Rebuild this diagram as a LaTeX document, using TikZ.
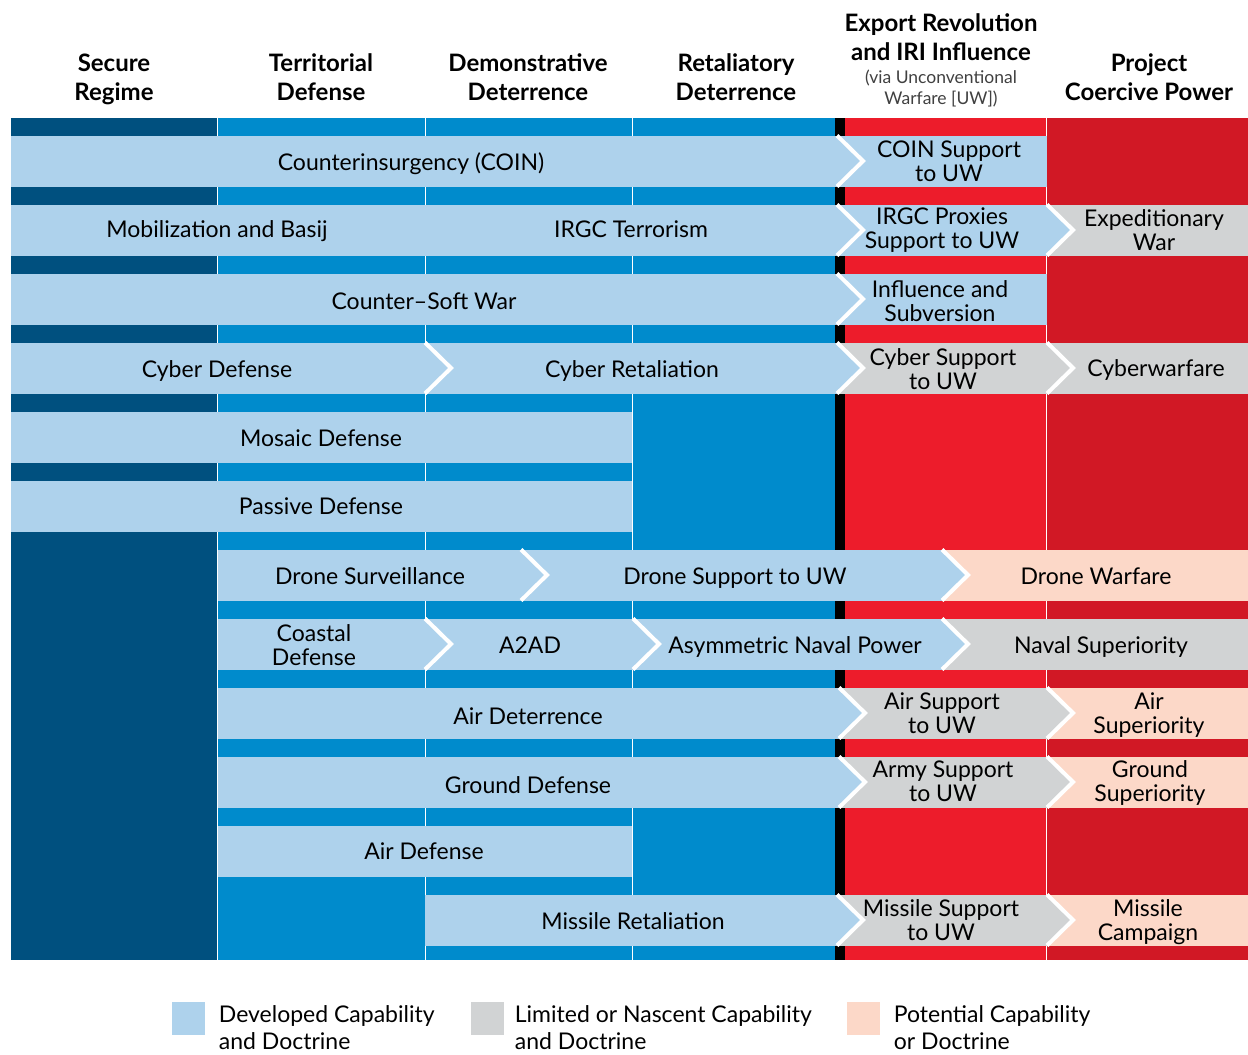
\documentclass[tikz,border=0pt]{standalone}
\usepackage{fontspec}
\setmainfont{Lato}
\usepackage{tikz}
\usetikzlibrary{positioning}

\definecolor{regblue}{RGB}{0,80,127}
\definecolor{colblue}{RGB}{0,139,204}
\definecolor{devblue}{RGB}{174,210,236}
\definecolor{nascgray}{RGB}{209,211,212}
\definecolor{potpeach}{RGB}{252,216,200}
\definecolor{uwred}{RGB}{237,28,43}
\definecolor{powred}{RGB}{209,24,37}

\begin{document}
\begin{tikzpicture}[x=1pt,y=-1pt]
        \tikzstyle{head}=[font=\bfseries\fontsize{24}{29}\selectfont,
            align=center,inner sep=0pt]
        \tikzstyle{subhead}=[font=\fontsize{17.5}{21}\selectfont,
            align=center,inner sep=0pt,text=black!75]
        \tikzstyle{lbl}=[font=\fontsize{23}{24}\selectfont,
            align=center,inner sep=0pt]
        \tikzstyle{lblone}=[lbl,anchor=base]
        \tikzstyle{colsep}=[draw=white,line width=1.5pt]
        \tikzstyle{chev}=[draw=white,line width=4pt]
        \tikzstyle{key}=[minimum size=33pt,inner sep=0pt]
        \tikzstyle{keytext}=[font=\fontsize{23}{27}\selectfont,
            align=left,inner sep=0pt]
            \useasboundingbox (0,0) rectangle (1248,1055);

            % column headers
            \node[head] (secure) at (114,79.5) {Secure\\Regime};
            \node[head] (terr) at (321,77) {Territorial\\Defense};
            \node[head] (demo) at (528,77) {Demonstrative\\Deterrence};
            \node[head] (retal) at (736,77) {Retaliatory\\Deterrence};
            \node[head] (export) at (941,37) {Export Revolution\\and IRI Influence};
            \node[subhead, below=9pt of export] (via) {(via Unconventional\\Warfare [UW])};
            \node[head] (coerce) at (1149,77) {Project\\Coercive Power};

            % column backgrounds
            \fill[regblue] (11,118) rectangle (218,960);
            \fill[colblue] (218,118) rectangle (835,960);
            \fill[black] (835,118) rectangle (845,960);
            \fill[uwred] (845,118) rectangle (1047,960);
            \fill[powred] (1047,118) rectangle (1248,960);
            \draw[colsep] (217.5,118) -- (217.5,960);
            \draw[colsep] (425.5,118) -- (425.5,960);
            \draw[colsep] (632.5,118) -- (632.5,960);
            \draw[colsep] (1046.5,118) -- (1046.5,960);

            % COIN
            \fill[devblue] (11,135.5) rectangle (1047,186.5);
            \path[chev,fill=devblue] (837,135.5) -- ++(26,25.5) -- ++(-26,25.5);
            \node[lblone] (coin) at (411,170) {Counterinsurgency (COIN)};
            \node[lbl] (coinuw) at (949,161) {COIN Support\\to UW};

            % Basij and proxies
            \fill[devblue] (11,204.5) rectangle (1047,255.5);
            \fill[nascgray] (1047,204.5) rectangle (1248,255.5);
            \path[chev,fill=devblue] (837,204.5) -- ++(26,25.5) -- ++(-26,25.5);
            \path[chev,fill=devblue] (1047,204.5) -- ++(26,25.5) -- ++(-26,25.5);
            \node[lblone] (basij) at (217,237) {Mobilization and Basij};
            \node[lblone] (terror) at (631,237) {IRGC Terrorism};
            \node[lbl] (proxies) at (942,230) {IRGC Proxies\\Support to UW};
            \node[lbl] (exped) at (1154,230) {Expeditionary\\War};

            % soft war
            \fill[devblue] (11,273.5) rectangle (1047,324.5);
            \path[chev,fill=devblue] (837,273.5) -- ++(26,25.5) -- ++(-26,25.5);
            \node[lblone] (softwar) at (424,309) {Counter--Soft War};
            \node[lbl] (subv) at (940,301) {Influence and\\Subversion};

            % cyber
            \fill[devblue] (11,342.5) rectangle (837,393.5);
            \fill[nascgray] (837,342.5) rectangle (1248,393.5);
            \path[chev,fill=devblue] (425,342.5) -- ++(26,25.5) -- ++(-26,25.5);
            \path[chev,fill=devblue] (837,342.5) -- ++(26,25.5) -- ++(-26,25.5);
            \path[chev,fill=nascgray] (1047,342.5) -- ++(26,25.5) -- ++(-26,25.5);
            \node[lblone] (cyberdef) at (217,377) {Cyber Defense};
            \node[lblone] (cyberret) at (632,377) {Cyber Retaliation};
            \node[lbl] (cyberuw) at (943,369) {Cyber Support\\to UW};
            \node[lblone] (cyberwar) at (1156,376) {Cyberwarfare};

            % mosaic and passive
            \fill[devblue] (11,411.5) rectangle (632,462.5);
            \fill[devblue] (11,480.5) rectangle (632,531.5);
            \node[lblone] (mosaic) at (321,446) {Mosaic Defense};
            \node[lblone] (passive) at (321,514) {Passive Defense};

            % drones
            \fill[devblue] (218,549.5) rectangle (942,600.5);
            \fill[potpeach] (942,549.5) rectangle (1248,600.5);
            \path[chev,fill=devblue] (521,549.5) -- ++(26,25.5) -- ++(-26,25.5);
            \path[chev,fill=devblue] (942,549.5) -- ++(26,25.5) -- ++(-26,25.5);
            \node[lblone] (dronesurv) at (370,584) {Drone Surveillance};
            \node[lblone] (droneuw) at (735,584) {Drone Support to UW};
            \node[lblone] (dronewar) at (1096,584) {Drone Warfare};

            % naval
            \fill[devblue] (218,618.5) rectangle (942,669.5);
            \fill[nascgray] (942,618.5) rectangle (1248,669.5);
            \path[chev,fill=devblue] (425,618.5) -- ++(26,25.5) -- ++(-26,25.5);
            \path[chev,fill=devblue] (633,618.5) -- ++(26,25.5) -- ++(-26,25.5);
            \path[chev,fill=devblue] (942,618.5) -- ++(26,25.5) -- ++(-26,25.5);
            \node[lbl] (coastal) at (314,645) {Coastal\\Defense};
            \node[lblone] (atad) at (530,653) {A2AD};
            \node[lblone] (asymnav) at (795,653) {Asymmetric Naval Power};
            \node[lblone] (navsup) at (1101,653) {Naval Superiority};

            % air
            \fill[devblue] (218,687.5) rectangle (839,738.5);
            \fill[nascgray] (839,687.5) rectangle (1047,738.5);
            \fill[potpeach] (1047,687.5) rectangle (1248,738.5);
            \path[chev,fill=devblue] (839,687.5) -- ++(26,25.5) -- ++(-26,25.5);
            \path[chev,fill=nascgray] (1047,687.5) -- ++(26,25.5) -- ++(-26,25.5);
            \node[lblone] (airdet) at (528,724) {Air Deterrence};
            \node[lbl] (airuw) at (942,713) {Air Support\\to UW};
            \node[lbl] (airsup) at (1149,715) {Air\\Superiority};

            % ground
            \fill[devblue] (218,756.5) rectangle (839,807.5);
            \fill[nascgray] (839,756.5) rectangle (1047,807.5);
            \fill[potpeach] (1047,756.5) rectangle (1248,807.5);
            \path[chev,fill=devblue] (839,756.5) -- ++(26,25.5) -- ++(-26,25.5);
            \path[chev,fill=nascgray] (1047,756.5) -- ++(26,25.5) -- ++(-26,25.5);
            \node[lblone] (grounddef) at (528,793) {Ground Defense};
            \node[lbl] (armyuw) at (943,781) {Army Support\\to UW};
            \node[lbl] (groundsup) at (1150,783) {Ground\\Superiority};

            % air defense
            \fill[devblue] (218,825.5) rectangle (632,876.5);
            \node[lblone] (airdef) at (424,859) {Air Defense};

            % missiles
            \fill[devblue] (425,894.5) rectangle (837,945.5);
            \fill[nascgray] (837,894.5) rectangle (1047,945.5);
            \fill[potpeach] (1047,894.5) rectangle (1248,945.5);
            \path[chev,fill=devblue] (837,894.5) -- ++(26,25.5) -- ++(-26,25.5);
            \path[chev,fill=nascgray] (1047,894.5) -- ++(26,25.5) -- ++(-26,25.5);
            \node[lblone] (missret) at (633,929) {Missile Retaliation};
            \node[lbl] (missuw) at (941,920) {Missile Support\\to UW};
            \node[lbl] (misscamp) at (1148,922) {Missile\\Campaign};

            % legend
            \node[key,fill=devblue] (kdev) at (188,1018) {};
            \node[keytext,right=14pt of kdev.north east,anchor=north west,yshift=-4pt] (tdev)
                {Developed Capability\\and Doctrine};
            \node[key,fill=nascgray] (knasc) at (487,1018) {};
            \node[keytext,right=11pt of knasc.north east,anchor=north west,yshift=-4pt] (tnasc)
                {Limited or Nascent Capability\\and Doctrine};
            \node[key,fill=potpeach] (kpot) at (863,1018) {};
            \node[keytext,right=14pt of kpot.north east,anchor=north west,yshift=-4pt] (tpot)
                {Potential Capability\\or Doctrine};
        \end{tikzpicture}
\end{document}
